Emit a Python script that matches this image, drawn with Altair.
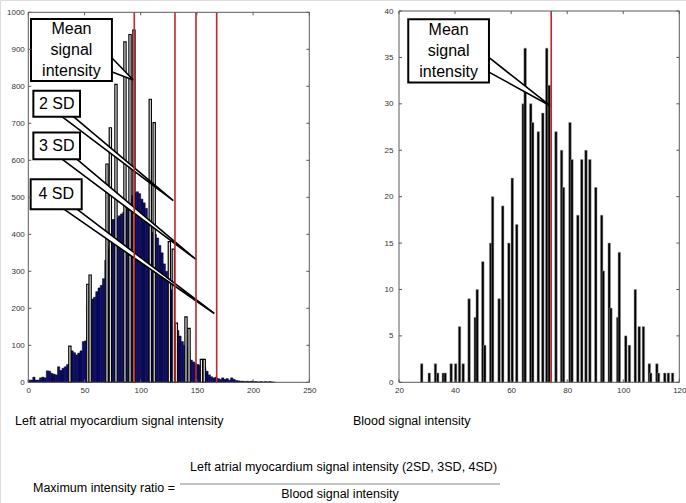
import altair as alt
import pandas as pd

FONT = "Liberation Sans"
NAVY = "#0b0b7e"
RED = "#c2272d"

# ---------------- Left panel: left atrial myocardium histogram ----------------
myo_bin_start = list(range(0, 220, 2))
myo_counts = [6, 6, 14, 6, 6, 12, 14, 12, 31, 30,
              24, 22, 20, 42, 32, 38, 42, 48, 50, 85,
              80, 74, 79, 85, 110, 112, 205, 220, 225, 230,
              245, 255, 262, 280, 330, 360, 400, 440, 440, 445,
              450, 455, 460, 470, 480, 495, 505, 512, 515, 510,
              495, 485, 470, 440, 420, 405, 400, 390, 370, 350,
              320, 300, 270, 250, 150, 145, 140, 125, 110, 100,
              95, 80, 60, 55, 50, 48, 45, 42, 40, 30,
              20, 15, 12, 14, 10, 8, 12, 8, 10, 6,
              12, 8, 5, 4, 3, 3, 2, 3, 2, 3,
              2, 2, 1, 2, 1, 2, 1, 2, 1, 0]
myo_spike_x = [37, 53, 55, 70, 73, 78, 86, 90.5, 94, 108.5, 112, 125.5, 129, 131.7, 140.3, 143, 154, 156.5]
myo_spike_h = [98, 265, 290, 590, 688, 805, 920, 940, 952, 765, 702, 380, 360, 160, 177, 146, 62, 62]
myo_lines = [94.3, 130.5, 149.2, 167.6]          # mean, 2SD, 3SD, 4SD
myo_xticks = [0, 50, 100, 150, 200, 250]
myo_yticks = list(range(0, 1001, 100))
myo_domain_x = [0, 250]
myo_domain_y = [0, 1000]

# callouts (data coordinates of the left panel)
myo_box_x0 = [2.4, 4.5, 4.5, 2.1]
myo_box_x1 = [74.4, 46, 46, 47.5]
myo_box_y0 = [814, 718, 603, 468]
myo_box_y1 = [982, 788, 675, 549]
myo_wedge_ax = [73.4, 28.2, 28.2, 29.7]
myo_wedge_ay = [880, 722, 607, 472]
myo_wedge_bx = [73.4, 38.6, 41.5, 41.5]
myo_wedge_by = [840, 722, 607, 472]
myo_wedge_tx = [93.4, 129, 149.2, 165.5]
myo_wedge_ty = [817, 491, 332, 186]
myo_label_text = ["Mean", "signal", "intensity", "2 SD", "3 SD", "4 SD"]
myo_label_x = [38.4, 38.4, 38.4, 25.3, 25.3, 24.8]
myo_label_y = [955, 898, 841, 753, 639, 508]

# ---------------- Right panel: blood histogram ----------------
blood_x = [28.1, 30.8, 33.0, 33.8, 35.8, 36.5, 38.6, 40.2, 41.6, 42.9, 45.0, 47.2, 47.9,
           49.9, 50.6, 52.7, 53.4, 55.7, 57.0, 59.2, 60.4, 62.0, 64.3, 65.0, 67.0, 67.7,
           69.7, 71.3, 72.7, 73.6, 76.0, 78.0, 78.7, 81.0, 81.7, 83.8, 85.2, 86.7, 88.1,
           90.2, 92.3, 92.9, 95.0, 95.6, 98.0, 98.6, 100.9, 102.2, 104.3, 105.7, 107.2,
           109.3, 109.8, 112.0, 112.6, 114.8, 116.1, 117.6]
blood_counts = [2, 1, 2, 1, 1, 1, 2, 2, 6, 2, 9, 7, 10,
                13, 4, 15, 20, 9, 19, 15, 22, 17, 30, 36, 30, 28,
                27, 29, 36, 32, 27, 25, 21, 28, 24, 18, 24, 25, 24,
                21, 18, 12, 15, 8, 7, 14, 5, 4, 10, 6, 6,
                2, 1, 2, 1, 1, 1, 1]
blood_mean = [74.3]
blood_xticks = [20, 40, 60, 80, 100, 120]
blood_yticks = list(range(0, 41, 5))
blood_domain_x = [20, 120]
blood_domain_y = [0, 40]

blood_box_x0 = [23.3]
blood_box_x1 = [52.1]
blood_box_y0 = [32.3]
blood_box_y1 = [39.1]
blood_wedge_ax = [51.6]
blood_wedge_ay = [35.1]
blood_wedge_bx = [51.6]
blood_wedge_by = [33.5]
blood_wedge_tx = [73.9]
blood_wedge_ty = [29.8]
blood_label_text = ["Mean", "signal", "intensity"]
blood_label_x = [37.7, 37.7, 37.7]
blood_label_y = [37.95, 35.7, 33.45]

# ---------------- captions / formula ----------------
caption_text = ["Left atrial myocardium signal intensity", "Blood signal intensity",
                "Maximum intensity ratio =",
                "Left atrial myocardium signal intensity (2SD, 3SD, 4SD)",
                "Blood signal intensity"]

# ---------------- scales (pixel placement of the two panels) ----------------
W, H = 686, 503
L_X = alt.Scale(domain=myo_domain_x, range=[28.3, 309.3], nice=False, zero=False)
L_Y = alt.Scale(domain=myo_domain_y, range=[382.3, 12.3], nice=False, zero=False)
R_X = alt.Scale(domain=blood_domain_x, range=[399, 679.3], nice=False, zero=False)
R_Y = alt.Scale(domain=blood_domain_y, range=[382.3, 11], nice=False, zero=False)
P_X = alt.Scale(domain=[0, W], range=[0, W], nice=False, zero=False)
P_Y = alt.Scale(domain=[0, H], range=[0, H], nice=False, zero=False)

PLOT_TOP, PLOT_BOTTOM = 12.3, 382.3
TICK = 3
FRAME = "#5a5a5a"


def axis(orient, offset, values, pad):
    return alt.Axis(orient=orient, offset=offset, values=values, ticks=False, tickSize=0,
                    domain=False, grid=False, labelPadding=pad, labelFont=FONT,
                    labelFontSize=8, labelColor="#333333", labelFlush=False,
                    labelOverlap=False, title=None, format="d")


def panel(sx, sy, dom_x, dom_y, xticks, yticks, left_px, right_px, top_px, yoff, ypad):
    tx = pd.DataFrame({"t": xticks})
    ty = pd.DataFrame({"t": yticks})
    frame_df = pd.DataFrame({"x0": [dom_x[0]], "x1": [dom_x[1]], "y0": [dom_y[0]], "y1": [dom_y[1]]})
    frame = alt.Chart(frame_df).mark_rect(fill="white", fillOpacity=0, stroke=FRAME, strokeWidth=1).encode(
        x=alt.X("x0:Q", scale=sx, axis=None), x2="x1:Q",
        y=alt.Y("y0:Q", scale=sy, axis=None), y2="y1:Q")
    bot = alt.Chart(tx).mark_rule(color=FRAME).encode(
        x=alt.X("t:Q", scale=sx, axis=axis("bottom", PLOT_BOTTOM - H, xticks, 4)),
        y=alt.Y(datum=dom_y[0], scale=sy, axis=None), y2=alt.value(PLOT_BOTTOM - TICK))
    top = alt.Chart(tx).mark_rule(color=FRAME).encode(
        x=alt.X("t:Q", scale=sx, axis=None),
        y=alt.Y(datum=dom_y[1], scale=sy, axis=None), y2=alt.value(top_px + TICK))
    lft = alt.Chart(ty).mark_rule(color=FRAME).encode(
        y=alt.Y("t:Q", scale=sy, axis=axis("left", yoff, yticks, ypad)),
        x=alt.X(datum=dom_x[0], scale=sx, axis=None), x2=alt.value(left_px + TICK))
    rgt = alt.Chart(ty).mark_rule(color=FRAME).encode(
        y=alt.Y("t:Q", scale=sy, axis=None),
        x=alt.X(datum=dom_x[1], scale=sx, axis=None), x2=alt.value(right_px - TICK))
    return [frame, bot, top, lft, rgt]


def callouts(sx, sy, bx0, bx1, by0, by1, ax, ay, bx, by, tx, ty, lt, lx, ly):
    boxes = pd.DataFrame({"x0": bx0, "x1": bx1, "y0": by0, "y1": by1})
    box = alt.Chart(boxes).mark_rect(fill="white", stroke="black", strokeWidth=2).encode(
        x=alt.X("x0:Q", scale=sx, axis=None), x2="x1:Q",
        y=alt.Y("y0:Q", scale=sy, axis=None), y2="y1:Q")
    rows = []
    for k in range(len(ax)):
        rows += [{"k": k, "o": 0, "x": ax[k], "y": ay[k]},
                 {"k": k, "o": 1, "x": tx[k], "y": ty[k]},
                 {"k": k, "o": 2, "x": bx[k], "y": by[k]}]
    wedge = alt.Chart(pd.DataFrame(rows)).mark_line(
        fill="white", stroke="black", strokeWidth=1.6, strokeJoin="miter").encode(
        x=alt.X("x:Q", scale=sx, axis=None), y=alt.Y("y:Q", scale=sy, axis=None),
        detail="k:N", order="o:Q")
    labels = alt.Chart(pd.DataFrame({"t": lt, "x": lx, "y": ly})).mark_text(
        font=FONT, fontSize=16, color="black", align="center", baseline="middle").encode(
        x=alt.X("x:Q", scale=sx, axis=None), y=alt.Y("y:Q", scale=sy, axis=None), text="t:N")
    return [wedge, box, labels]


# ---------------- left panel layers ----------------
myo_df = pd.DataFrame({"x0": myo_bin_start, "n": myo_counts})
myo_bars = alt.Chart(myo_df).transform_calculate(x1="datum.x0 + 2").mark_rect(
    fill=NAVY, stroke="black", strokeWidth=0.5).encode(
    x=alt.X("x0:Q", scale=L_X, axis=None), x2="x1:Q",
    y=alt.Y("n:Q", scale=L_Y, axis=None), y2=alt.datum(0))

spike_df = pd.DataFrame({"s": myo_spike_x, "h": myo_spike_h})
myo_spikes = alt.Chart(spike_df).transform_calculate(
    a="datum.s - 1.0", b="datum.s + 1.0").mark_rect(
    fill="white", stroke="black", strokeWidth=1.2).encode(
    x=alt.X("a:Q", scale=L_X, axis=None), x2="b:Q",
    y=alt.Y("h:Q", scale=L_Y, axis=None), y2=alt.datum(0))

myo_red = alt.Chart(pd.DataFrame({"v": myo_lines})).mark_rule(color=RED, strokeWidth=1.6).encode(
    x=alt.X("v:Q", scale=L_X, axis=None),
    y=alt.Y(datum=myo_domain_y[0], scale=L_Y, axis=None), y2=alt.datum(myo_domain_y[1]))

# ---------------- right panel layers ----------------
blood_df = pd.DataFrame({"c": blood_x, "n": blood_counts})
blood_bars = alt.Chart(blood_df).transform_calculate(
    a="datum.c - 0.45", b="datum.c + 0.45").mark_rect(
    fill="black", stroke="#9a9a9a", strokeWidth=0.5).encode(
    x=alt.X("a:Q", scale=R_X, axis=None), x2="b:Q",
    y=alt.Y("n:Q", scale=R_Y, axis=None), y2=alt.datum(0))

blood_red = alt.Chart(pd.DataFrame({"v": blood_mean})).mark_rule(color=RED, strokeWidth=1.6).encode(
    x=alt.X("v:Q", scale=R_X, axis=None),
    y=alt.Y(datum=blood_domain_y[0], scale=R_Y, axis=None), y2=alt.datum(blood_domain_y[1]))

# ---------------- captions (pixel placement) ----------------
cap_df = pd.DataFrame({
    "t": caption_text,
    "px": [15, 353, 33, 190, 340],
    "py": [421, 421, 488, 467, 494],
    "al": ["left", "left", "left", "left", "center"],
})
cap_left = alt.Chart(cap_df).transform_filter("datum.al == 'left'").mark_text(
    font=FONT, fontSize=12.5, color="black", align="left", baseline="middle").encode(
    x=alt.X("px:Q", scale=P_X, axis=None), y=alt.Y("py:Q", scale=P_Y, axis=None), text="t:N")
cap_center = alt.Chart(cap_df).transform_filter("datum.al == 'center'").mark_text(
    font=FONT, fontSize=12.5, color="black", align="center", baseline="middle").encode(
    x=alt.X("px:Q", scale=P_X, axis=None), y=alt.Y("py:Q", scale=P_Y, axis=None), text="t:N")
frac_line = alt.Chart(pd.DataFrame({"x0": [180], "x1": [500], "y": [484]})).mark_rule(
    color="#8a8a8a", strokeWidth=1).encode(
    x=alt.X("x0:Q", scale=P_X, axis=None), x2="x1:Q", y=alt.Y("y:Q", scale=P_Y, axis=None))

layers = [
    myo_bars, myo_spikes,
    *callouts(L_X, L_Y, myo_box_x0, myo_box_x1, myo_box_y0, myo_box_y1,
              myo_wedge_ax, myo_wedge_ay, myo_wedge_bx, myo_wedge_by,
              myo_wedge_tx, myo_wedge_ty, myo_label_text, myo_label_x, myo_label_y),
    myo_red,
    *panel(L_X, L_Y, myo_domain_x, myo_domain_y, myo_xticks, myo_yticks,
           28.3, 309.3, 12.3, -28.3, 4),
    blood_bars,
    *callouts(R_X, R_Y, blood_box_x0, blood_box_x1, blood_box_y0, blood_box_y1,
              blood_wedge_ax, blood_wedge_ay, blood_wedge_bx, blood_wedge_by,
              blood_wedge_tx, blood_wedge_ty, blood_label_text, blood_label_x, blood_label_y),
    blood_red,
    *panel(R_X, R_Y, blood_domain_x, blood_domain_y, blood_xticks, blood_yticks,
           399, 679.3, 11, -399, 6),
    cap_left, cap_center, frac_line,
]

chart = alt.layer(*layers).resolve_scale(
    x="independent", y="independent"
).properties(
    width=W, height=H, autosize=alt.AutoSizeParams(type="none"), padding=0
).configure_view(stroke=None).configure(background="white")

chart.save("out.html", embed_options={"renderer": "svg", "actions": False})
